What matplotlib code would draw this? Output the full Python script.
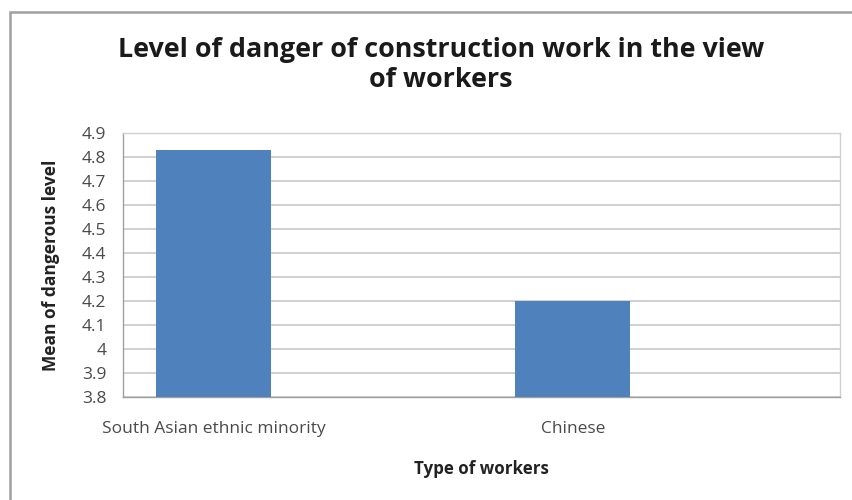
import matplotlib.pyplot as plt
from matplotlib.patches import Rectangle

# mean danger rating by worker group
groups = ['South Asian ethnic minority', 'Chinese']
means = [4.83, 4.2]
yticks = [3.8, 3.9, 4.0, 4.1, 4.2, 4.3, 4.4, 4.5, 4.6, 4.7, 4.8, 4.9]
ytick_labels = ['3.8', '3.9', '4', '4.1', '4.2', '4.3', '4.4', '4.5', '4.6', '4.7', '4.8', '4.9']

plt.rcParams['font.family'] = ['Open Sans', 'DejaVu Sans']

fig = plt.figure(figsize=(8.52, 5.0), dpi=100)
W, H = 852.0, 500.0

# chart border (runs off the right and bottom edge)
fig.patches.append(Rectangle((10 / W, -0.05), 1.0, (500 - 12) / H + 0.05,
                             transform=fig.transFigure, fill=False,
                             edgecolor='#a0a0a0', linewidth=1.8))

ax = fig.add_axes([123 / W, 1 - 397 / H, (840 - 123) / W, (397 - 133) / H])

xs = list(range(len(groups)))
ax.bar(xs, means, width=0.32, color='#4f81bd', zorder=3)

ax.set_ylim(3.8, 4.9)
ax.set_xlim(-0.253, 1.744)
ax.set_yticks(yticks)
ax.set_yticklabels(ytick_labels)
ax.set_xticks(xs)
ax.set_xticklabels(groups)
ax.tick_params(axis='both', length=0, labelsize=12.5, colors='#4a4a4a')
ax.tick_params(axis='y', pad=12)
ax.tick_params(axis='x', pad=17)
ax.grid(axis='y', color='#c8c8c8', linewidth=1.2, zorder=0)
for side in ax.spines.values():
    side.set_color('#d0d0d0')
    side.set_linewidth(1.0)
ax.spines['left'].set_color('#a0a0a0')
ax.spines['bottom'].set_color('#a0a0a0')

ax.set_ylabel('Mean of dangerous level', fontsize=12.5, fontweight='bold',
              color='#222222', va='center')
ax.yaxis.set_label_coords((51 - 123) / (840 - 123), 0.5)
ax.set_xlabel('Type of workers', fontsize=12.2, fontweight='bold',
              color='#222222', va='center')
ax.xaxis.set_label_coords(0.5, -(469 - 397) / (397 - 133))

fig.text(441 / W, 1 - 65 / H, 'Level of danger of construction work in the view\nof workers',
         ha='center', va='center', fontsize=19.4, fontweight='bold',
         color='#1a1a1a', linespacing=1.2)

fig.savefig('out.png', dpi=100, facecolor='white')
